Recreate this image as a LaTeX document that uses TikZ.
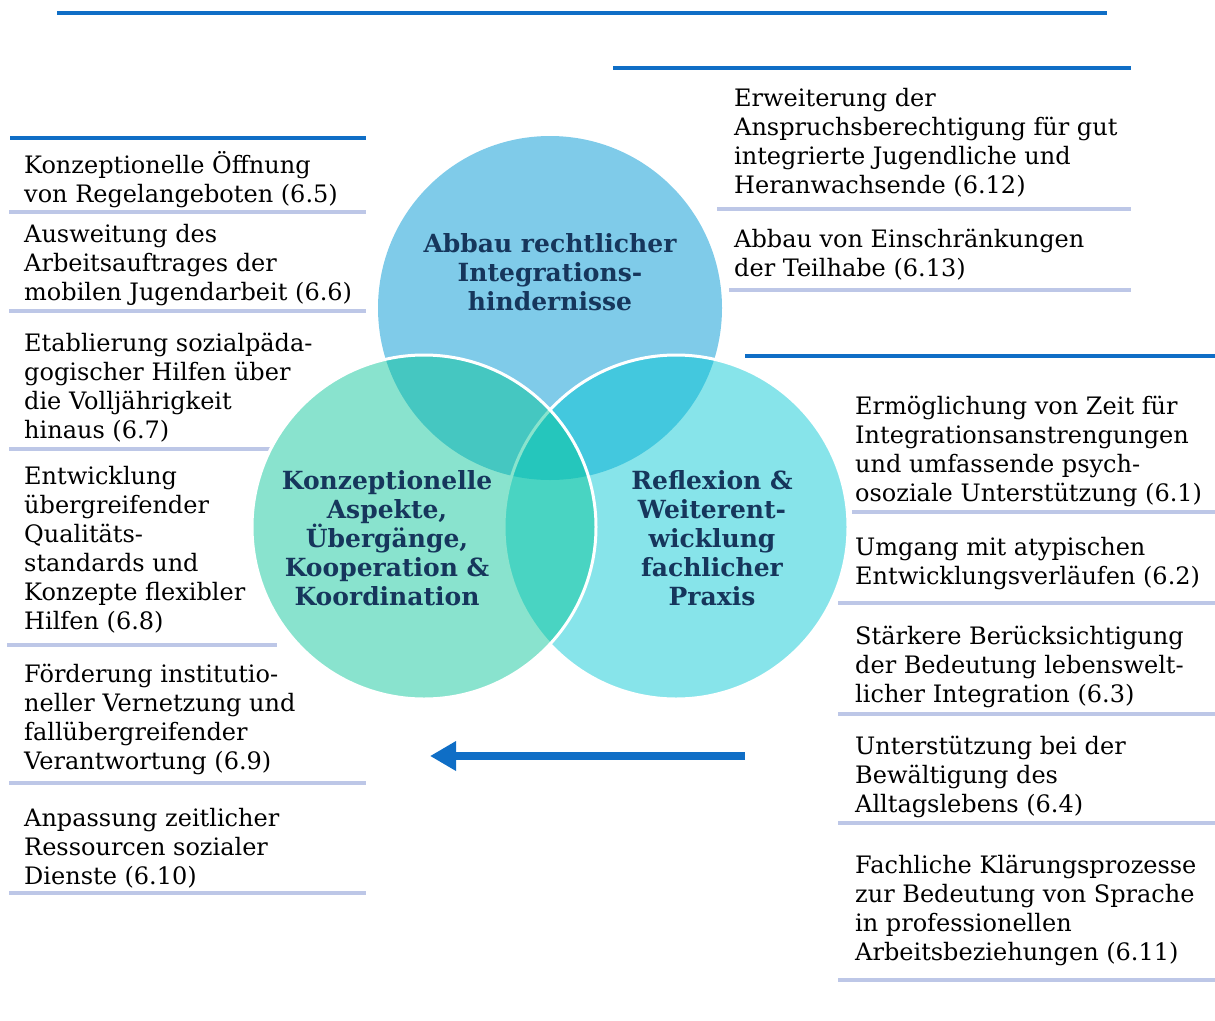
\documentclass[tikz,border=0pt]{standalone}
\usepackage{fontspec}
\setmainfont{DejaVu Serif}
\usetikzlibrary{arrows.meta}
\definecolor{kreisblau}{RGB}{127,203,233}
\definecolor{kreisgruen}{RGB}{5,196,150}
\definecolor{kreistuerkis}{RGB}{0,197,210}
\definecolor{linieblau}{RGB}{15,110,198}
\definecolor{liniegrau}{RGB}{189,199,231}
\definecolor{textblau}{RGB}{22,54,92}
\tikzset{
  eintrag/.style={anchor=base west, align=left, inner sep=0pt, font=\fontsize{24}{29}\selectfont},
  kreistext/.style={align=center, inner sep=0pt, text=textblau, font=\bfseries\fontsize{25}{29}\selectfont},
  kopflinie/.style={draw=linieblau, line width=4pt},
  trennlinie/.style={draw=liniegrau, line width=4pt},
  kreis/.style={draw=white, line width=3pt, fill opacity=0.47},
  pfeil/.style={draw=linieblau, line width=8pt, -{Triangle[length=26pt,width=28pt]}}
}
\begin{document}
\begin{tikzpicture}[x=1pt,y=-1pt]
\useasboundingbox (0,0) rectangle (1215,1020);

\draw[kopflinie] (57,13) -- (1107,13);
\draw[kopflinie] (10,138) -- (366,138);
\draw[kopflinie] (613,68) -- (1131,68);
\draw[kopflinie] (745,356) -- (1215,356);

\draw[trennlinie] (9,212) -- (366,212);
\draw[trennlinie] (9,311) -- (366,311);
\draw[trennlinie] (9,449) -- (270,449);
\draw[trennlinie] (7,645) -- (277,645);
\draw[trennlinie] (9,783) -- (366,783);
\draw[trennlinie] (9,893) -- (366,893);
\draw[trennlinie] (717,209) -- (1131,209);
\draw[trennlinie] (729,290) -- (1131,290);
\draw[trennlinie] (852,512) -- (1215,512);
\draw[trennlinie] (838,603) -- (1215,603);
\draw[trennlinie] (838,714) -- (1215,714);
\draw[trennlinie] (838,823) -- (1215,823);
\draw[trennlinie] (838,980) -- (1215,980);

\fill[kreisblau] (550,308) circle[radius=172pt];
\filldraw[kreis, fill=kreistuerkis] (676,527) circle[radius=172pt];
\filldraw[kreis, fill=kreisgruen] (424,527) circle[radius=172pt];

\node[kreistext] (abbau) at (550,272) {Abbau rechtlicher\\Integrations-\\hindernisse};
\node[kreistext] (konzept) at (387,538) {Konzeptionelle\\Aspekte,\\Übergänge,\\Kooperation \&\\Koordination};
\node[kreistext] (reflexion) at (712,538) {Reflexion \&\\Weiterent-\\wicklung\\fachlicher\\Praxis};

\node[eintrag] (e5) at (24,202) {Konzeptionelle Öffnung\\von Regelangeboten (6.5)};
\node[eintrag] (e6) at (24,300) {Ausweitung des\\Arbeitsauftrages der\\mobilen Jugendarbeit (6.6)};
\node[eintrag] (e7) at (24,438) {Etablierung sozialpäda-\\gogischer Hilfen über\\die Volljährigkeit\\hinaus (6.7)};
\node[eintrag] (e8) at (24,629) {Entwicklung\\übergreifender\\Qualitäts-\\standards und\\Konzepte flexibler\\Hilfen (6.8)};
\node[eintrag] (e9) at (24,769) {Förderung institutio-\\neller Vernetzung und\\fallübergreifender\\Verantwortung (6.9)};
\node[eintrag] (e10) at (24,884) {Anpassung zeitlicher\\Ressourcen sozialer\\Dienste (6.10)};

\node[eintrag] (e12) at (734,193) {Erweiterung der\\Anspruchsberechtigung für gut\\integrierte Jugendliche und\\Heranwachsende (6.12)};
\node[eintrag] (e13) at (734,276) {Abbau von Einschränkungen\\der Teilhabe (6.13)};

\node[eintrag] (e1) at (855,501) {Ermöglichung von Zeit für\\Integrationsanstrengungen\\und umfassende psych-\\osoziale Unterstützung (6.1)};
\node[eintrag] (e2) at (855,584) {Umgang mit atypischen\\Entwicklungsverläufen (6.2)};
\node[eintrag] (e3) at (855,702) {Stärkere Berücksichtigung\\der Bedeutung lebenswelt-\\licher Integration (6.3)};
\node[eintrag] (e4) at (855,812) {Unterstützung bei der\\Bewältigung des\\Alltagslebens (6.4)};
\node[eintrag] (e11) at (855,960) {Fachliche Klärungsprozesse\\zur Bedeutung von Sprache\\in professionellen\\Arbeitsbeziehungen (6.11)};

\coordinate (pfeilstart) at (745,756);
\coordinate (pfeilziel) at (430,756);
\draw[pfeil] (pfeilstart) -- (pfeilziel);
\end{tikzpicture}
\end{document}
